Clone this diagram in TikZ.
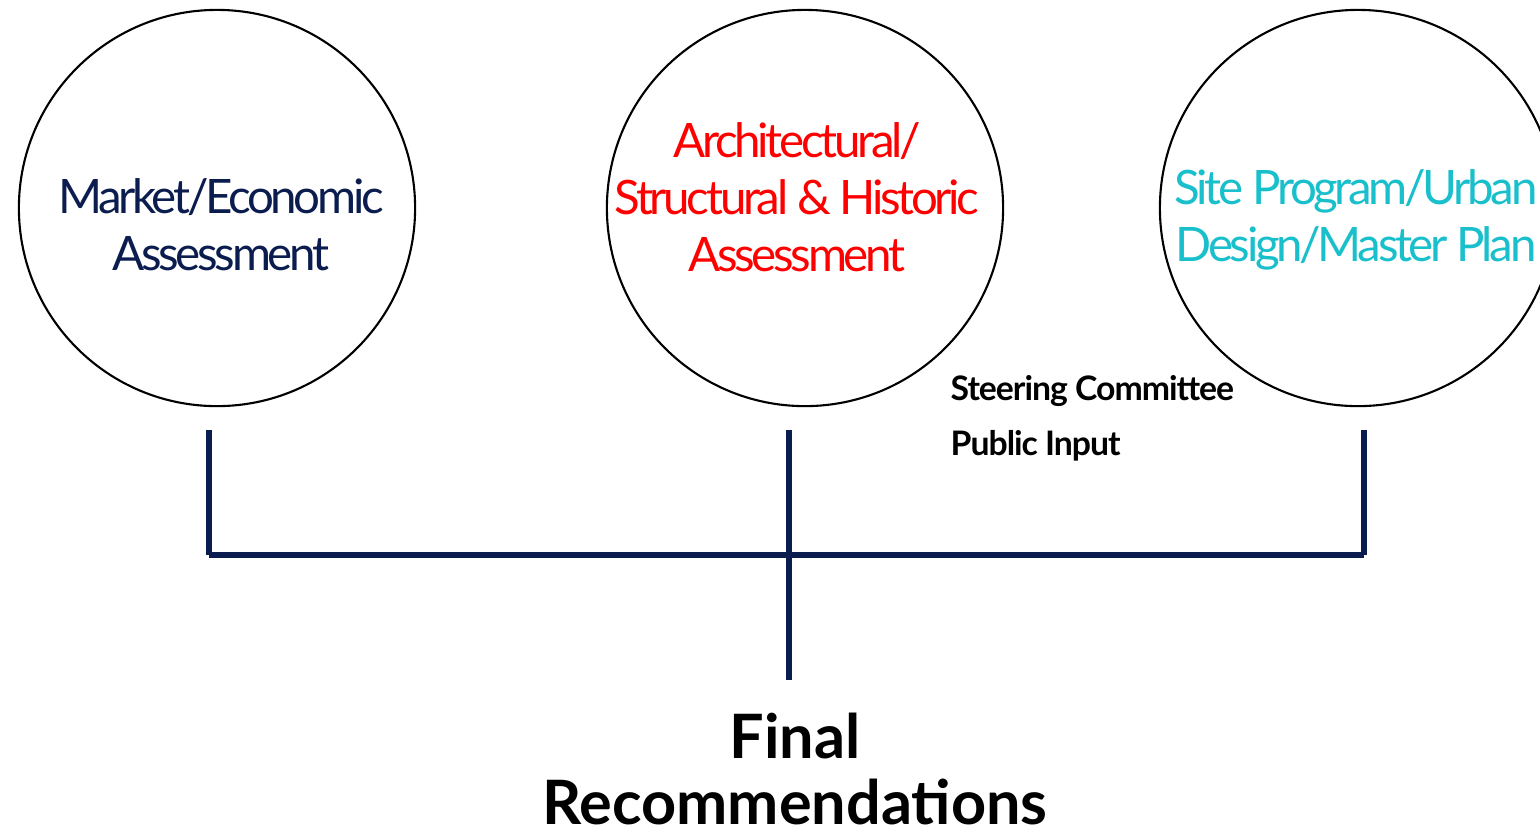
\documentclass[tikz,border=0pt]{standalone}
\usepackage{fontspec}
\setmainfont{Lato}
\newfontfamily\tightfont{Lato}[LetterSpace=-7]
\newfontfamily\notefont{Lato}[LetterSpace=-3]
\usepackage{tikz}
\usetikzlibrary{positioning}
\definecolor{navy}{HTML}{0B1D4F}
\definecolor{siteblue}{HTML}{1ABFCC}
\definecolor{archred}{HTML}{FF0000}
\tikzstyle{every node}+=[inner sep=0pt]
\tikzset{
  phase/.style={circle, draw=black, line width=0.6pt, minimum size=3.96cm},
  phasetext/.style={align=center, font=\tightfont\fontsize{13.5}{16.2}\selectfont},
  notetext/.style={anchor=base west, font=\notefont\fontsize{9.6}{15.6}\selectfont\bfseries},
  bar/.style={navy, line width=1.7pt},
}
\begin{document}
\begin{tikzpicture}[x=0.01cm, y=-0.01cm]
    \useasboundingbox (0,0) rectangle (1540,835);
    \clip (0,0) rectangle (1540,835);
    % the three studies
    \node [phase] (market) at (217,208) {};
    \node [phase] (arch) at (805,208) {};
    \node [phase] (site) at (1358,208) {};
    \node [phasetext, text=navy] (markettxt) at (221,225) {Market/Economic\\Assessment};
    \node [phasetext, text=archred] (archtxt) at (797,197) {Architectural/\\Structural \& Historic\\Assessment};
    \node [phasetext, text=siteblue] (sitetxt) at (1356,220) {Site Program/Urban\\Design/Master Plan};
    % side notes
    \node [notetext] (steer) at (950,400) {Steering Committee};
    \node [notetext] (public) at (950,455) {Public Input};
    % connectors
    \coordinate (mtop) at (209,430);
    \coordinate (atop) at (789,430);
    \coordinate (stop) at (1364,430);
    \coordinate (mbot) at (209,555);
    \coordinate (abot) at (789,555);
    \coordinate (sbot) at (1364,555);
    \coordinate (fend) at (789,680);
    \draw [bar] (mtop) -- (mbot);
    \draw [bar] (stop) -- (sbot);
    \draw [bar] (mbot) -- (sbot);
    \draw [bar] (atop) -- (fend);
    \node [align=center, font=\fontsize{17.4}{18.8}\selectfont\bfseries] (final) at (795,769) {Final\\Recommendations};
\end{tikzpicture}
\end{document}
